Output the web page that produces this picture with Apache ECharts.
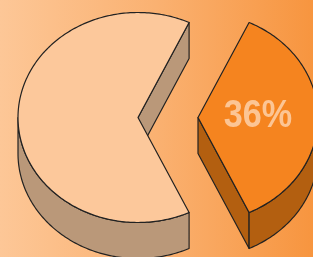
<!DOCTYPE html>
<html>
<head>
<meta charset="utf-8">
<script src="https://cdn.jsdelivr.net/npm/echarts@6/dist/echarts.min.js"></script>
<style>html,body{margin:0;padding:0;}#c{width:313px;height:257px;}</style>
</head>
<body>
<div id="c"></div>
<script>
var categories = ["Rest", "Share"];
var values = [64, 36];
var topColors = ["#FCC89B", "#F5841F"];
var sideColors = ["#BA9879", "#B35F10"];
var labelShown = [false, true];

var chart = echarts.init(document.getElementById('c'));
var total = values.reduce(function (a, b) { return a + b; }, 0);
var startDeg = values[1] / total * 180;
var CX = 138, CY = 117.5, RX = 120, RY = 105, DEPTH = 36;
var EXPLODE = [0, 60];
var D2R = Math.PI / 180;

function sliceRange(i) {
  var a = startDeg;
  for (var k = 0; k < i; k++) a += values[k] / total * 360;
  return [a, a + values[i] / total * 360];
}
function pt(c, deg, dy) {
  return [c[0] + RX * Math.cos(deg * D2R), c[1] - RY * Math.sin(deg * D2R) + (dy || 0)];
}
function arc(c, a1, a2, dy) {
  var pts = [];
  var n = Math.max(2, Math.ceil(Math.abs(a2 - a1)));
  for (var j = 0; j <= n; j++) pts.push(pt(c, a1 + (a2 - a1) * j / n, dy));
  return pts;
}

function renderItem(params, api) {
  var i = params.dataIndex;
  var r = sliceRange(i);
  var a1 = r[0], a2 = r[1], mid = (a1 + a2) / 2;
  var c = [CX + EXPLODE[i] * Math.cos(mid * D2R), CY - EXPLODE[i] * (RY / RX) * Math.sin(mid * D2R)];
  var stroke = { stroke: '#222222', lineWidth: 1.2, lineJoin: 'round' };
  var children = [];
  [[a1, a1 - 90], [a2, a2 + 90]].forEach(function (f) {
    if (Math.sin(f[1] * D2R) < -1e-6) {
      var e = pt(c, f[0], 0), e2 = pt(c, f[0], DEPTH);
      children.push({
        type: 'polygon',
        shape: { points: [c.slice(), e, e2, [c[0], c[1] + DEPTH]] },
        style: Object.assign({ fill: sideColors[i] }, stroke)
      });
    }
  });
  for (var k = -1; k <= 1; k++) {
    var lo = Math.max(a1, 180 + 360 * k), hi = Math.min(a2, 360 + 360 * k);
    if (hi > lo) {
      var topArc = arc(c, lo, hi, 0);
      var botArc = arc(c, hi, lo, DEPTH);
      children.push({
        type: 'polygon',
        shape: { points: topArc.concat(botArc) },
        style: Object.assign({ fill: sideColors[i] }, stroke)
      });
    }
  }
  children.push({
    type: 'polygon',
    shape: { points: [c.slice()].concat(arc(c, a1, a2, 0)) },
    style: Object.assign({ fill: topColors[i] }, stroke)
  });
  if (labelShown[i]) {
    var lp = [c[0] + 0.5 * RX * Math.cos(mid * D2R), c[1] - 0.5 * RY * Math.sin(mid * D2R)];
    children.push({
      type: 'text',
      x: lp[0], y: lp[1] - 1,
      scaleX: 0.9,
      style: {
        text: Math.round(api.value(0) / total * 100) + '%',
        x: 0, y: 0,
        fill: '#FCC594',
        fontSize: 38, fontWeight: 'bold', fontFamily: 'Liberation Sans, Arial, sans-serif',
        align: 'center', verticalAlign: 'middle'
      }
    });
  }
  return { type: 'group', children: children };
}

chart.setOption({
  animation: false,
  backgroundColor: new echarts.graphic.LinearGradient(0, 0, 1, 0, [
    { offset: 0, color: '#FDC797' },
    { offset: 0.5, color: '#FAB171' },
    { offset: 1, color: '#F7953F' }
  ]),
  series: [{
    type: 'custom',
    coordinateSystem: 'none',
    renderItem: renderItem,
    data: values.map(function (v, i) { return { name: categories[i], value: [v] }; })
  }]
});
</script>
</body>
</html>
